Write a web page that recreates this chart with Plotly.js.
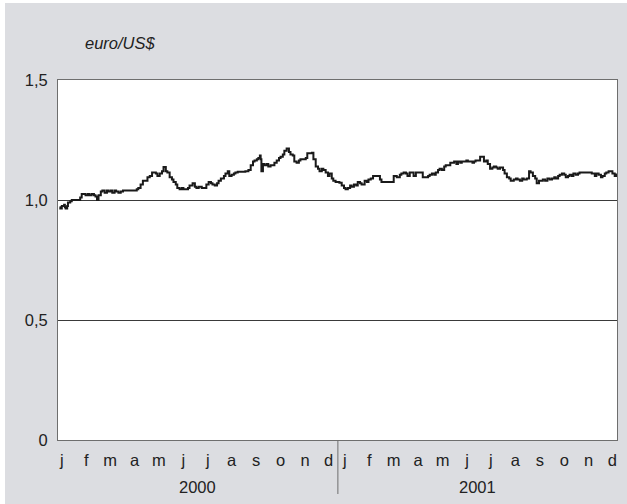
<!DOCTYPE html>
<html>
<head>
<meta charset="utf-8">
<script src="https://cdn.plot.ly/plotly-3.0.1.min.js"></script>
<style>
  html, body { margin: 0; padding: 0; background: #ffffff; }
  #chart { width: 627px; height: 504px; }
</style>
</head>
<body>
<div id="chart"></div>
<script>
// Exchange rate euro / US$
const dates = [
  '2000-01-03','2000-01-04','2000-01-06','2000-01-09','2000-01-10','2000-01-11','2000-01-13','2000-01-14','2000-01-17','2000-01-19',
  '2000-01-24','2000-01-27','2000-01-30','2000-02-01','2000-02-04','2000-02-06','2000-02-09','2000-02-11','2000-02-14','2000-02-17',
  '2000-02-19','2000-02-21','2000-02-23','2000-02-26','2000-02-28','2000-03-02','2000-03-05','2000-03-07','2000-03-10','2000-03-12',
  '2000-03-15','2000-03-17','2000-03-20','2000-03-23','2000-03-26','2000-03-29','2000-04-04','2000-04-09','2000-04-13','2000-04-15',
  '2000-04-18','2000-04-21','2000-04-25','2000-04-27','2000-04-30','2000-05-03','2000-05-05','2000-05-08','2000-05-10','2000-05-13',
  '2000-05-16','2000-05-18','2000-05-21','2000-05-23','2000-05-26','2000-05-29','2000-05-31','2000-06-03','2000-06-05','2000-06-08',
  '2000-06-11','2000-06-13','2000-06-16','2000-06-19','2000-06-21','2000-06-25','2000-06-28','2000-06-30','2000-07-03','2000-07-07',
  '2000-07-11','2000-07-13','2000-07-16','2000-07-19','2000-07-21','2000-07-24','2000-07-27','2000-07-29','2000-08-01','2000-08-05',
  '2000-08-07','2000-08-10','2000-08-12','2000-08-15','2000-08-18','2000-08-20','2000-08-23','2000-08-28','2000-09-02','2000-09-06',
  '2000-09-09','2000-09-12','2000-09-14','2000-09-17','2000-09-19','2000-09-21','2000-09-22','2000-09-23','2000-09-25','2000-09-27',
  '2000-09-30','2000-10-02','2000-10-05','2000-10-08','2000-10-10','2000-10-13','2000-10-16','2000-10-18','2000-10-21','2000-10-23',
  '2000-10-26','2000-10-29','2000-10-31','2000-11-03','2000-11-05','2000-11-08','2000-11-11','2000-11-13','2000-11-17','2000-11-20',
  '2000-11-22','2000-11-28','2000-11-30','2000-12-03','2000-12-06','2000-12-08','2000-12-11','2000-12-13','2000-12-16','2000-12-19',
  '2000-12-21','2000-12-24','2000-12-26','2000-12-29','2001-01-01','2001-01-03','2001-01-06','2001-01-09','2001-01-11','2001-01-14',
  '2001-01-17','2001-01-19','2001-01-22','2001-01-25','2001-01-27','2001-01-30','2001-02-01','2001-02-05','2001-02-08','2001-02-10',
  '2001-02-13','2001-02-16','2001-02-19','2001-02-22','2001-02-25','2001-02-27','2001-03-05','2001-03-10','2001-03-14','2001-03-15',
  '2001-03-19','2001-03-23','2001-03-25','2001-03-28','2001-03-31','2001-04-02','2001-04-05','2001-04-08','2001-04-10','2001-04-13',
  '2001-04-16','2001-04-20','2001-04-22','2001-04-26','2001-04-29','2001-05-01','2001-05-04','2001-05-07','2001-05-09','2001-05-12',
  '2001-05-14','2001-05-17','2001-05-20','2001-05-22','2001-05-25','2001-05-28','2001-05-30','2001-06-02','2001-06-05','2001-06-07',
  '2001-06-10','2001-06-12','2001-06-15','2001-06-18','2001-06-20','2001-06-23','2001-06-26','2001-06-28','2001-06-30','2001-07-03',
  '2001-07-06','2001-07-08','2001-07-11','2001-07-14','2001-07-16','2001-07-19','2001-07-22','2001-07-24','2001-07-27','2001-07-29',
  '2001-08-01','2001-08-05','2001-08-07','2001-08-10','2001-08-13','2001-08-15','2001-08-19','2001-08-22','2001-08-24','2001-08-27',
  '2001-08-30','2001-09-01','2001-09-05','2001-09-08','2001-09-10','2001-09-13','2001-09-16','2001-09-18','2001-09-21','2001-09-24',
  '2001-09-26','2001-09-29','2001-10-02','2001-10-05','2001-10-08','2001-10-11','2001-10-13','2001-10-16','2001-10-18','2001-10-21',
  '2001-10-24','2001-10-26','2001-10-29','2001-10-31','2001-11-03','2001-11-05','2001-11-08','2001-11-11','2001-11-13','2001-11-17',
  '2001-11-21','2001-11-25','2001-11-29','2001-12-03','2001-12-05','2001-12-08','2001-12-11','2001-12-13','2001-12-16','2001-12-18',
  '2001-12-21','2001-12-24','2001-12-26','2001-12-29','2001-12-31'
];
const rates = [
  0.970,0.965,0.975,0.980,0.970,0.965,0.975,0.990,0.995,1.000,
  1.000,1.000,1.010,1.025,1.025,1.020,1.025,1.020,1.025,1.020,
  1.015,1.000,1.020,1.035,1.040,1.030,1.040,1.035,1.040,1.030,
  1.040,1.035,1.030,1.035,1.040,1.040,1.040,1.040,1.045,1.050,
  1.065,1.080,1.080,1.095,1.100,1.115,1.115,1.110,1.100,1.110,
  1.120,1.138,1.120,1.115,1.095,1.085,1.075,1.065,1.050,1.045,
  1.050,1.045,1.045,1.050,1.060,1.070,1.055,1.050,1.055,1.050,
  1.050,1.065,1.075,1.070,1.065,1.060,1.070,1.080,1.090,1.100,
  1.110,1.120,1.100,1.105,1.110,1.115,1.118,1.118,1.120,1.125,
  1.145,1.160,1.165,1.170,1.175,1.185,1.170,1.120,1.150,1.145,
  1.150,1.140,1.145,1.145,1.155,1.165,1.175,1.180,1.190,1.205,
  1.215,1.200,1.190,1.185,1.160,1.155,1.165,1.170,1.170,1.175,
  1.195,1.197,1.170,1.140,1.130,1.120,1.130,1.125,1.115,1.100,
  1.110,1.090,1.080,1.075,1.075,1.072,1.060,1.050,1.045,1.050,
  1.060,1.055,1.065,1.060,1.075,1.070,1.065,1.080,1.075,1.085,
  1.090,1.100,1.100,1.100,1.085,1.075,1.075,1.075,1.075,1.100,
  1.095,1.105,1.110,1.115,1.110,1.100,1.115,1.115,1.100,1.115,
  1.115,1.115,1.095,1.095,1.100,1.105,1.110,1.105,1.115,1.125,
  1.130,1.125,1.140,1.145,1.145,1.155,1.155,1.160,1.150,1.160,
  1.155,1.160,1.160,1.165,1.160,1.160,1.155,1.160,1.165,1.165,
  1.180,1.180,1.160,1.165,1.150,1.130,1.135,1.140,1.135,1.130,
  1.135,1.125,1.110,1.095,1.090,1.080,1.085,1.090,1.085,1.080,
  1.090,1.085,1.090,1.120,1.115,1.100,1.090,1.070,1.080,1.080,
  1.085,1.080,1.090,1.085,1.090,1.095,1.090,1.100,1.105,1.110,
  1.105,1.095,1.100,1.105,1.100,1.110,1.105,1.110,1.115,1.115,
  1.115,1.115,1.110,1.100,1.110,1.105,1.095,1.100,1.110,1.115,
  1.120,1.120,1.110,1.100,1.110
];

// Axis labels
const monthLabels = ['j','f','m','a','m','j','j','a','s','o','n','d',
                     'j','f','m','a','m','j','j','a','s','o','n','d'];
const monthTickDates = ['2000-01-06','2000-02-07','2000-03-09','2000-04-10','2000-05-12','2000-06-13',
                        '2000-07-15','2000-08-15','2000-09-16','2000-10-18','2000-11-19','2000-12-20',
                        '2001-01-10','2001-02-11','2001-03-15','2001-04-16','2001-05-18','2001-06-19',
                        '2001-07-20','2001-08-21','2001-09-22','2001-10-24','2001-11-25','2001-12-26'];
const years = ['2000','2001'];
const yearCenters = ['2000-07-01','2001-07-02'];
const yTickVals = [0, 0.5, 1.0, 1.5];
const yTickText = ['0','0,5','1,0','1,5'];
const unitLabel = 'euro/US$';

const FONT = 'Liberation Sans, Arial, Helvetica, sans-serif';
const FS = 16.5;

const trace = {
  x: dates, y: rates, type: 'scatter', mode: 'lines',
  line: { color: '#1a1a1a', width: 2, shape: 'hv' },
  hoverinfo: 'skip', showlegend: false
};

const layout = {
  width: 627, height: 504,
  paper_bgcolor: '#dcdde1', plot_bgcolor: '#ffffff',
  margin: { l: 58, r: 10, t: 80, b: 64 },
  font: { family: FONT, size: FS, color: '#222' },
  xaxis: {
    type: 'date', range: ['2000-01-01', '2002-01-01'],
    tickmode: 'array', tickvals: monthTickDates, ticktext: monthLabels,
    ticks: '', showgrid: false, zeroline: false,
    showline: true, linecolor: '#6e6e6e', linewidth: 1, mirror: true,
    tickfont: { family: FONT, size: FS, color: '#222' }, ticklabelstandoff: 5
  },
  yaxis: {
    range: [0, 1.5], tickmode: 'array', tickvals: yTickVals, ticktext: yTickText,
    ticks: '', showgrid: true, gridcolor: '#3a3a3a', gridwidth: 1,
    zeroline: false, showline: true, linecolor: '#6e6e6e', linewidth: 1, mirror: true,
    tickfont: { family: FONT, size: FS, color: '#222' }, ticklabelstandoff: 6
  },
  shapes: [
    { type: 'line', xref: 'x', yref: 'paper', x0: '2001-01-01', x1: '2001-01-01',
      y0: 0, y1: -0.15, line: { color: '#6e6e6e', width: 1 } },
    { type: 'rect', xref: 'paper', yref: 'paper', x0: -0.2, x1: 1.1, y0: 1.2139, y1: 1.25,
      fillcolor: '#ffffff', line: { width: 0 }, layer: 'below' },
    { type: 'rect', xref: 'paper', yref: 'paper', x0: -0.12, x1: -0.0948, y0: -0.3, y1: 1.25,
      fillcolor: '#ffffff', line: { width: 0 }, layer: 'below' }
  ],
  annotations: [
    { text: unitLabel, xref: 'paper', yref: 'paper', x: 0.045, y: 1.103,
      xanchor: 'left', yanchor: 'middle', showarrow: false,
      font: { family: FONT, size: FS, color: '#222', style: 'italic' } }
  ].concat(years.map((yr, i) => ({
      text: yr, xref: 'x', yref: 'paper', x: yearCenters[i], y: -0.13,
      xanchor: 'center', yanchor: 'middle', showarrow: false,
      font: { family: FONT, size: FS, color: '#222' }
  })))
};

Plotly.newPlot('chart', [trace], layout, { displayModeBar: false, staticPlot: true });
</script>
</body>
</html>
